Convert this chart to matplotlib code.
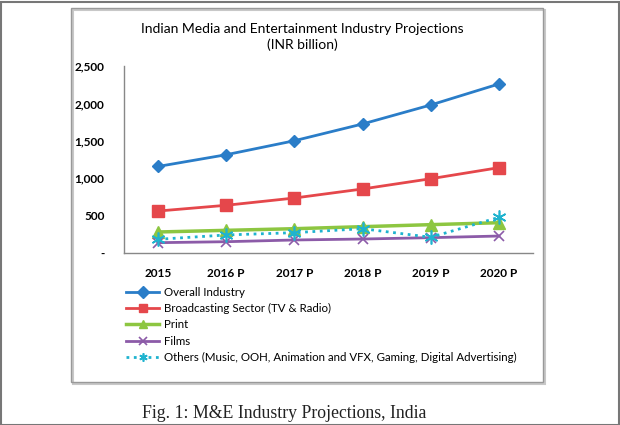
import numpy as np
import matplotlib.pyplot as plt
from matplotlib.patches import Rectangle
from matplotlib.ticker import FuncFormatter

# datos (INR billion)
years = ['2015', '2016 P', '2017 P', '2018 P', '2019 P', '2020 P']
overall = [1157, 1314, 1501, 1725, 1979, 2260]
broadcasting = [561, 638, 735, 856, 993, 1141]
print_media = [281, 303, 325, 352, 379, 405]
films = [138, 151, 174, 187, 205, 227]
others = [183, 241, 272, 325, 210, 477]

labels = ['Overall Industry', 'Broadcasting Sector (TV & Radio)', 'Print', 'Films',
          'Others (Music, OOH, Animation and VFX, Gaming, Digital Advertising)']

W, H = 620, 425
fig = plt.figure(figsize=(W / 100, H / 100), dpi=100)
plt.rcParams['font.family'] = ['Lato', 'DejaVu Sans']

# marco exterior y caja del gráfico
fig.patches.append(Rectangle((0.5 / W, 0.5 / H), (W - 2) / W, (H - 2) / H, transform=fig.transFigure,
                             fill=False, edgecolor='#777777', linewidth=1.5))
fig.patches.append(Rectangle((73 / W, (H - 384) / H), 472 / W, 374 / H, transform=fig.transFigure,
                             fill=False, edgecolor='#c8c8c8', linewidth=1.5))
fig.patches.append(Rectangle((71 / W, (H - 382) / H), 472 / W, 374 / H, transform=fig.transFigure,
                             fill=False, edgecolor='#999999', linewidth=1.0))

ax = fig.add_axes([124 / W, (H - 253) / H, (533 - 124) / W, (253 - 66) / H])
x = np.arange(len(years))

ax.plot(x, overall, color='#2A7DC8', lw=2, marker='D', ms=6.5, label=labels[0])
ax.plot(x, broadcasting, color='#E5474B', lw=2, marker='s', ms=8.5, label=labels[1])
ax.plot(x, print_media, color='#8DC641', lw=2.5, marker='^', ms=8.5, label=labels[2])
ax.plot(x, films, color='#8C5BA8', lw=2, marker='x', ms=7.5, mew=1.2, label=labels[3])
ax.plot(x, others, color='#1FB3CF', lw=2, ls=':', marker=(6, 2, 0), ms=10, mew=1.2, label=labels[4])

ax.set_xlim(-0.5, 5.5)
ax.set_ylim(0, 2500)
ax.set_xticks(x)
ax.set_xticklabels(years)
ax.set_yticks(range(0, 2501, 500))
ax.yaxis.set_major_formatter(FuncFormatter(lambda v, p: '-' if v == 0 else f'{int(v):,}'))
ax.tick_params(length=0, labelsize=8.5)
ax.tick_params(axis='y', pad=14)
ax.tick_params(axis='x', pad=11)
for t in ax.get_xticklabels() + ax.get_yticklabels():
    t.set_fontweight('bold')
for s in ['top', 'right']:
    ax.spines[s].set_visible(False)
for s in ['left', 'bottom']:
    ax.spines[s].set_color('#888888')
    ax.spines[s].set_linewidth(1)

fig.text(302 / W, 1 - 37 / H, 'Indian Media and Entertainment Industry Projections\n(INR billion)',
         ha='center', va='center', fontsize=10, linespacing=1.35)

leg = ax.legend(loc='upper left', bbox_to_anchor=(126 / W, 1 - 287 / H), bbox_transform=fig.transFigure,
                frameon=False, fontsize=8.3, handlelength=2.9, handletextpad=0.4,
                labelspacing=0.45, borderpad=0, borderaxespad=0)
for h in leg.legend_handles:
    h.set_markersize(6)

fig.text(284 / W, 1 - 413 / H, 'Fig. 1: M&E Industry Projections, India', ha='center', va='center',
         fontsize=12.8, family=['Liberation Serif', 'DejaVu Serif'], color='#222222')

fig.savefig('out.png', dpi=100)
